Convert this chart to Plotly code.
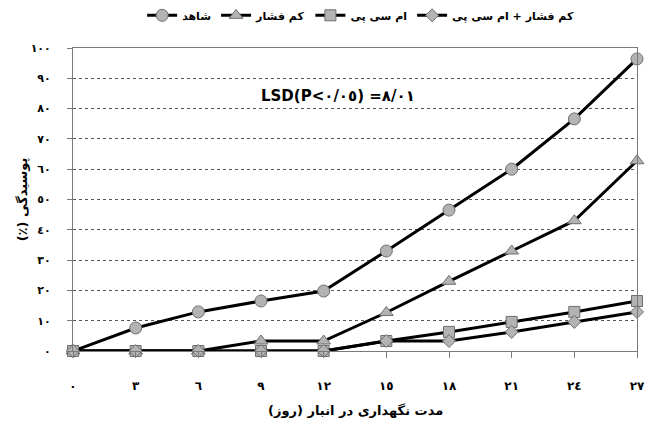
import plotly.graph_objects as go

days = [0, 3, 6, 9, 12, 15, 18, 21, 24, 27]
day_labels = ["٠", "٣", "٦", "٩", "١٢", "١٥", "١٨", "٢١", "٢٤", "٢٧"]
y_ticks = [0, 10, 20, 30, 40, 50, 60, 70, 80, 90, 100]
y_labels = ["٠", "١٠", "٢٠", "٣٠", "٤٠", "٥٠", "٦٠", "٧٠", "٨٠", "٩٠", "١٠٠"]

control = [0, 7.6, 12.9, 16.5, 19.8, 33, 46.5, 60, 76.6, 96.4]
low_pressure = [0, 0, 0, 3.3, 3.3, 12.7, 23, 33, 43, 62.8]
mcp = [0, 0, 0, 0, 0, 3.3, 6.3, 9.6, 12.9, 16.5]
low_pressure_mcp = [0, 0, 0, 0, 0, 3.3, 3.3, 6.3, 9.6, 12.9]

names = ["شاهد", "کم فشار", "ام سی پی", "کم فشار + ام سی پی"]
series = [control, low_pressure, mcp, low_pressure_mcp]
symbols = ["circle", "triangle-up", "square", "diamond"]
sizes = [12, 12, 11, 10]

FONT = "DejaVu Sans"

fig = go.Figure()
for nm, ys, sym, sz in zip(names, series, symbols, sizes):
    fig.add_trace(go.Scatter(
        x=days, y=ys, mode="lines+markers", name="<b>" + nm + "</b>",
        line=dict(color="black", width=3),
        marker=dict(symbol=sym, size=sz, color="#b3b3b3",
                    line=dict(color="#6e6e6e", width=1)),
        cliponaxis=False,
    ))

fig.add_annotation(
    x=12.7, y=84, xref="x", yref="y", showarrow=False,
    text="<b>LSD(P<٠/٠٥)\u200e =\u200e٨/٠١</b>",
    font=dict(family=FONT, size=15, color="black"),
)

fig.add_annotation(
    x=0.5, y=-0.195, xref="paper", yref="paper", showarrow=False,
    xanchor="center", yanchor="middle",
    text="<b>مدت نگهداری در انبار (روز)\u200f</b>",
    font=dict(family=FONT, size=13, color="black"),
)

fig.update_layout(
    width=648, height=425,
    margin=dict(l=73, r=11, t=48, b=74, autoexpand=False),
    paper_bgcolor="white", plot_bgcolor="white",
    font=dict(family=FONT, color="black"),
    showlegend=True,
    legend=dict(orientation="h", x=0.51, xanchor="center", y=1.06, yanchor="bottom",
                font=dict(family=FONT, size=11, color="black"),
                itemwidth=30, tracegroupgap=0, traceorder="normal"),
    xaxis=dict(
        range=[0, 27], tickmode="array", tickvals=days, ticktext=["<b>" + t + "</b>" for t in day_labels],
        showgrid=False, zeroline=False, automargin=False,
        showline=True, linecolor="#7a7a7a", linewidth=1, mirror=True,
        ticks="outside", ticklen=6, tickcolor="#7a7a7a",
        ticklabelstandoff=18,
        tickfont=dict(family=FONT, size=12, color="black"),
    ),
    yaxis=dict(
        range=[0, 100], tickmode="array", tickvals=y_ticks, ticktext=["<b>" + t + "</b>" for t in y_labels],
        showgrid=True, gridcolor="#555555", griddash="dot", gridwidth=1,
        zeroline=False, automargin=False,
        showline=True, linecolor="#7a7a7a", linewidth=1, mirror=True,
        ticks="outside", ticklen=5, tickcolor="#7a7a7a",
        ticklabelstandoff=14,
        tickfont=dict(family=FONT, size=11, color="black"),
        title=dict(text="<b>\u200fپوسیدگی (٪)\u200f</b>", standoff=0,
                   font=dict(family=FONT, size=13, color="black")),
    ),
)

fig.write_html("out.html")
